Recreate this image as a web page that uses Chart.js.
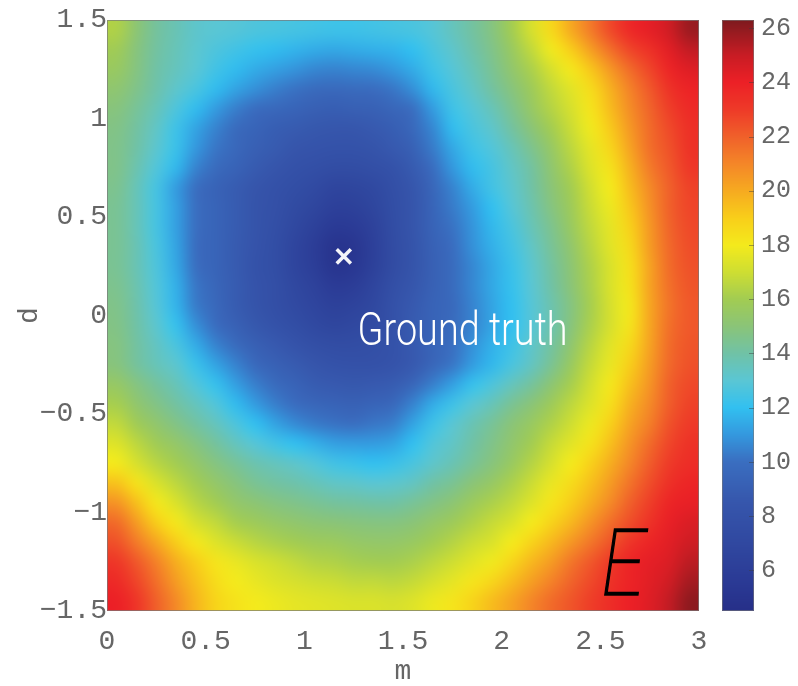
<!DOCTYPE html>
<html>
<head>
<meta charset="utf-8">
<script src="https://cdn.jsdelivr.net/npm/chart.js@4.4.1/dist/chart.umd.min.js"></script>
<style>
  html, body { margin: 0; padding: 0; background: #ffffff; }
  canvas { display: block; }
</style>
</head>
<body>
<canvas id="chart" width="798" height="686"></canvas>
<script>
// Cell centres of the E(m, d) grid
const mCenters = [0.05, 0.15, 0.25, 0.35, 0.45, 0.55, 0.65, 0.75, 0.85, 0.95,
                  1.05, 1.15, 1.25, 1.35, 1.45, 1.55, 1.65, 1.75, 1.85, 1.95,
                  2.05, 2.15, 2.25, 2.35, 2.45, 2.55, 2.65, 2.75, 2.85, 2.95];
const dCenters = [1.45, 1.35, 1.25, 1.15, 1.05, 0.95, 0.85, 0.75, 0.65, 0.55,
                  0.45, 0.35, 0.25, 0.15, 0.05, -0.05, -0.15, -0.25, -0.35, -0.45,
                  -0.55, -0.65, -0.75, -0.85, -0.95, -1.05, -1.15, -1.25, -1.35, -1.45];

// Energy E, one row per d value (top to bottom), one column per m value
const energy = [
  [16.3, 15.1, 14.2, 13.7, 13.2, 13.0, 12.9, 12.7, 12.6, 12.5, 12.4, 12.3, 12.3, 12.4, 12.5, 12.6, 12.9, 13.5, 14.1, 14.8, 16.0, 17.2, 18.6, 20.0, 21.3, 22.6, 23.7, 24.2, 24.8, 25.8],
  [15.9, 14.9, 14.1, 13.6, 13.1, 12.7, 12.4, 12.1, 11.9, 11.7, 11.5, 11.4, 11.5, 11.6, 11.7, 12.0, 12.6, 13.2, 13.9, 14.6, 15.6, 16.7, 17.9, 19.0, 20.3, 21.6, 22.7, 23.4, 24.3, 25.1],
  [15.6, 14.8, 14.0, 13.5, 13.0, 12.4, 11.9, 11.5, 11.2, 10.9, 10.6, 10.5, 10.6, 10.7, 11.0, 11.5, 12.3, 12.9, 13.6, 14.4, 15.3, 16.2, 17.2, 18.1, 19.2, 20.5, 21.7, 22.7, 23.8, 24.4],
  [15.2, 14.6, 13.9, 13.2, 12.6, 11.9, 11.3, 10.8, 10.4, 10.1, 9.8, 9.7, 9.8, 9.9, 10.2, 10.8, 11.8, 12.6, 13.3, 14.1, 14.9, 15.8, 16.7, 17.5, 18.5, 19.8, 21.1, 22.2, 23.3, 23.9],
  [14.9, 14.3, 13.6, 12.7, 11.9, 11.1, 10.4, 9.9, 9.6, 9.4, 9.1, 9.0, 9.1, 9.2, 9.5, 10.0, 11.1, 12.3, 12.9, 13.6, 14.5, 15.5, 16.4, 17.2, 18.2, 19.5, 20.8, 21.9, 22.9, 23.6],
  [14.7, 14.1, 13.3, 12.3, 11.3, 10.5, 9.8, 9.4, 9.0, 8.8, 8.6, 8.5, 8.5, 8.7, 9.0, 9.6, 10.6, 11.9, 12.6, 13.2, 14.1, 15.0, 16.0, 16.9, 17.9, 19.1, 20.5, 21.7, 22.6, 23.4],
  [14.6, 14.0, 13.1, 12.2, 11.0, 10.2, 9.6, 9.1, 8.8, 8.4, 8.2, 8.1, 8.1, 8.3, 8.7, 9.2, 10.3, 11.4, 12.3, 12.8, 13.6, 14.5, 15.5, 16.6, 17.6, 18.7, 20.2, 21.6, 22.4, 23.3],
  [14.6, 13.8, 12.8, 11.8, 10.5, 9.8, 9.3, 8.8, 8.4, 8.0, 7.7, 7.5, 7.5, 7.7, 8.1, 8.8, 9.9, 11.0, 11.9, 12.5, 13.3, 14.1, 15.2, 16.3, 17.4, 18.3, 19.8, 21.3, 22.2, 23.1],
  [14.5, 13.6, 12.5, 11.1, 10.0, 9.3, 8.9, 8.4, 8.0, 7.6, 7.2, 6.7, 6.8, 7.1, 7.7, 8.5, 9.5, 10.5, 11.5, 12.4, 13.1, 14.0, 15.0, 16.0, 17.1, 18.0, 19.5, 20.9, 22.0, 22.8],
  [14.4, 13.6, 12.5, 11.2, 10.0, 9.4, 8.9, 8.3, 7.9, 7.3, 6.8, 6.2, 6.3, 6.8, 7.6, 8.4, 9.4, 10.3, 11.1, 12.0, 12.9, 13.8, 14.8, 15.8, 16.9, 17.8, 19.2, 20.7, 22.0, 22.7],
  [14.4, 13.6, 12.5, 11.2, 10.0, 9.4, 8.9, 8.3, 7.8, 7.0, 6.3, 5.6, 5.7, 6.4, 7.5, 8.4, 9.3, 10.1, 10.9, 11.8, 12.6, 13.6, 14.5, 15.6, 16.7, 17.6, 18.9, 20.5, 21.9, 22.6],
  [14.4, 13.7, 12.6, 11.3, 9.9, 9.4, 8.8, 8.2, 7.6, 6.7, 5.9, 5.0, 5.2, 6.2, 7.4, 8.3, 9.2, 9.9, 10.8, 11.6, 12.4, 13.3, 14.3, 15.3, 16.5, 17.5, 18.6, 20.4, 21.8, 22.5],
  [14.4, 13.7, 12.7, 11.4, 10.0, 9.4, 8.8, 8.1, 7.6, 6.7, 6.0, 5.1, 5.3, 6.3, 7.4, 8.3, 9.1, 9.8, 10.6, 11.4, 12.2, 13.1, 14.1, 15.1, 16.3, 17.3, 18.4, 20.2, 21.7, 22.4],
  [14.5, 13.8, 12.8, 11.6, 10.2, 9.5, 8.9, 8.2, 7.7, 7.0, 6.4, 5.7, 5.9, 6.7, 7.7, 8.5, 9.2, 9.8, 10.6, 11.4, 12.1, 13.0, 14.0, 15.0, 16.2, 17.3, 18.3, 20.2, 21.6, 22.3],
  [14.6, 13.9, 12.9, 11.7, 10.3, 9.6, 8.9, 8.3, 7.8, 7.2, 6.7, 6.3, 6.5, 7.0, 8.0, 8.7, 9.3, 9.7, 10.5, 11.3, 12.0, 12.9, 13.8, 14.8, 16.1, 17.2, 18.1, 20.1, 21.5, 22.2],
  [14.7, 14.0, 13.1, 12.1, 10.8, 9.9, 9.2, 8.6, 8.1, 7.6, 7.1, 6.8, 7.0, 7.3, 8.0, 8.8, 9.3, 9.8, 10.5, 11.3, 12.0, 12.9, 13.8, 14.9, 16.2, 17.2, 18.2, 20.1, 21.6, 22.2],
  [14.8, 14.1, 13.4, 12.6, 11.5, 10.5, 9.8, 9.1, 8.7, 8.2, 7.8, 7.5, 7.5, 7.7, 8.1, 8.7, 9.4, 10.0, 10.8, 11.6, 12.3, 13.2, 14.1, 15.2, 16.5, 17.5, 18.6, 20.2, 21.7, 22.3],
  [14.9, 14.2, 13.6, 13.1, 12.2, 11.3, 10.5, 9.7, 9.2, 8.8, 8.4, 8.1, 8.0, 8.0, 8.2, 8.7, 9.5, 10.2, 11.1, 11.8, 12.6, 13.4, 14.4, 15.6, 16.8, 17.7, 19.0, 20.4, 21.8, 22.4],
  [15.5, 14.8, 14.2, 13.6, 12.8, 12.1, 11.2, 10.4, 9.8, 9.3, 8.9, 8.7, 8.6, 8.7, 8.9, 9.5, 10.4, 11.2, 12.1, 12.7, 13.5, 14.2, 15.1, 16.1, 17.1, 18.1, 19.4, 20.6, 22.0, 22.6],
  [16.1, 15.3, 14.7, 14.1, 13.5, 12.8, 11.9, 11.1, 10.4, 9.9, 9.5, 9.3, 9.2, 9.4, 9.6, 10.5, 11.5, 12.3, 13.0, 13.6, 14.4, 15.0, 15.8, 16.6, 17.4, 18.4, 19.8, 20.9, 22.1, 22.8],
  [16.7, 15.9, 15.3, 14.7, 14.1, 13.5, 12.7, 12.0, 11.3, 10.7, 10.3, 10.1, 10.0, 10.2, 10.4, 11.3, 12.3, 13.0, 13.7, 14.3, 15.0, 15.6, 16.3, 17.0, 17.8, 18.9, 20.2, 21.2, 22.4, 23.0],
  [17.4, 16.6, 15.9, 15.4, 14.8, 14.2, 13.5, 12.9, 12.4, 12.0, 11.6, 11.2, 11.1, 11.1, 11.3, 12.0, 12.8, 13.3, 14.0, 14.6, 15.3, 16.0, 16.8, 17.5, 18.3, 19.4, 20.6, 21.7, 22.7, 23.3],
  [18.0, 17.2, 16.5, 16.0, 15.4, 14.8, 14.3, 13.8, 13.5, 13.2, 12.8, 12.4, 12.2, 12.0, 12.2, 12.6, 13.2, 13.7, 14.3, 14.9, 15.6, 16.4, 17.2, 18.0, 18.9, 19.9, 21.0, 22.1, 23.0, 23.5],
  [19.3, 18.3, 17.3, 16.6, 16.0, 15.4, 14.9, 14.4, 14.1, 13.9, 13.6, 13.3, 13.2, 13.0, 13.1, 13.4, 14.0, 14.4, 15.0, 15.5, 16.2, 16.9, 17.7, 18.5, 19.4, 20.4, 21.5, 22.5, 23.4, 23.8],
  [20.6, 19.4, 18.1, 17.3, 16.5, 16.0, 15.4, 15.1, 14.8, 14.6, 14.4, 14.2, 14.1, 14.0, 14.0, 14.3, 14.7, 15.1, 15.7, 16.2, 16.7, 17.4, 18.2, 19.0, 19.9, 20.9, 22.0, 22.9, 23.8, 24.1],
  [21.7, 20.4, 19.0, 18.1, 17.2, 16.7, 16.1, 15.8, 15.5, 15.3, 15.1, 15.0, 14.9, 14.8, 14.8, 15.0, 15.4, 15.8, 16.3, 16.8, 17.3, 18.0, 18.8, 19.6, 20.6, 21.6, 22.5, 23.3, 24.1, 24.5],
  [22.4, 21.3, 20.1, 19.0, 18.1, 17.4, 16.9, 16.5, 16.2, 16.0, 15.8, 15.7, 15.5, 15.4, 15.4, 15.6, 16.0, 16.4, 16.9, 17.3, 18.0, 18.8, 19.6, 20.5, 21.4, 22.3, 23.2, 23.8, 24.3, 24.8],
  [23.1, 22.2, 21.1, 19.9, 19.0, 18.2, 17.7, 17.3, 17.0, 16.7, 16.4, 16.3, 16.1, 16.0, 16.0, 16.2, 16.6, 17.0, 17.5, 17.9, 18.7, 19.6, 20.4, 21.4, 22.2, 23.0, 23.8, 24.2, 24.5, 25.2],
  [23.6, 22.7, 21.6, 20.4, 19.4, 18.5, 18.0, 17.7, 17.4, 17.2, 17.0, 16.9, 16.7, 16.7, 16.6, 16.8, 17.2, 17.6, 18.2, 18.7, 19.5, 20.3, 21.1, 21.9, 22.6, 23.3, 23.9, 24.3, 24.8, 25.6],
  [24.0, 23.2, 22.0, 20.9, 19.7, 18.8, 18.3, 18.0, 17.8, 17.6, 17.5, 17.4, 17.3, 17.3, 17.2, 17.4, 17.8, 18.2, 18.8, 19.5, 20.2, 21.0, 21.7, 22.3, 22.9, 23.5, 24.0, 24.4, 25.1, 26.0]
];

// Axis ticks and colour-bar ticks
const mTicks = [0, 0.5, 1, 1.5, 2, 2.5, 3];
const dTicks = [-1.5, -1, -0.5, 0, 0.5, 1, 1.5];
const eTicks = [6, 8, 10, 12, 14, 16, 18, 20, 22, 24, 26];
const eRange = [4.5, 26.3];

// Ground-truth parameters and annotation anchors
const truthM = [1.2];
const truthD = [0.3];
const truthLabel = { text: 'Ground truth', m: 1.27, d: -0.15 };
const panelLabel = { text: 'E', m: 2.505, d: -1.42 };

// Jet-like colour map (value -> rgb)
const cmapStops = [
  [4.5, [38, 47, 136]], [5.5, [42, 57, 148]], [7.0, [48, 72, 160]],
  [8.5, [54, 86, 172]], [10.0, [58, 110, 192]], [11.0, [52, 152, 222]],
  [12.0, [50, 192, 240]], [13.0, [90, 198, 212]], [14.0, [112, 194, 166]],
  [15.0, [138, 196, 120]], [16.0, [162, 204, 82]], [17.0, [206, 222, 50]],
  [18.0, [244, 234, 28]], [19.0, [248, 206, 26]], [20.0, [246, 170, 32]],
  [21.0, [244, 134, 40]], [22.0, [240, 96, 42]], [23.0, [238, 58, 40]],
  [24.0, [236, 32, 38]], [25.0, [200, 28, 36]], [26.3, [125, 26, 30]]
];
function jetRGB(v) {
  const s = cmapStops;
  if (v <= s[0][0]) return s[0][1];
  if (v >= s[s.length - 1][0]) return s[s.length - 1][1];
  for (let i = 1; i < s.length; i++) {
    if (v <= s[i][0]) {
      const t = (v - s[i - 1][0]) / (s[i][0] - s[i - 1][0]);
      return s[i - 1][1].map((a, k) => Math.round(a + (s[i][1][k] - a) * t));
    }
  }
}
const jet = v => `rgb(${jetRGB(v).join(',')})`;

const axisFont = { family: "'Liberation Mono', 'DejaVu Sans Mono', monospace", size: 28 };
const axisColor = '#666666';
const fmt = v => (v < 0 ? '\u2212' + Math.abs(v) : String(v));

// Each grid cell becomes one texel; the texture is stretched over the cells'
// extent on the m/d scales with smooth (interpolated) shading.
function cellTexture() {
  const w = mCenters.length, h = dCenters.length;
  const off = document.createElement('canvas');
  off.width = w; off.height = h;
  const octx = off.getContext('2d');
  const img = octx.createImageData(w, h);
  for (let i = 0; i < h; i++) {
    for (let j = 0; j < w; j++) {
      const c = jetRGB(energy[i][j]);
      const k = (i * w + j) * 4;
      img.data[k] = c[0]; img.data[k + 1] = c[1]; img.data[k + 2] = c[2]; img.data[k + 3] = 255;
    }
  }
  octx.putImageData(img, 0, 0);
  return off;
}
const texture = cellTexture();

const heatmapPlugin = {
  id: 'heatmap',
  beforeDatasetsDraw(chart) {
    const { ctx, chartArea: a, scales: { x, y, cb } } = chart;
    const hm = (mCenters[1] - mCenters[0]) / 2;
    const hd = Math.abs(dCenters[0] - dCenters[1]) / 2;
    const left = x.getPixelForValue(mCenters[0] - hm);
    const right = x.getPixelForValue(mCenters[mCenters.length - 1] + hm);
    const top = y.getPixelForValue(dCenters[0] + hd);
    const bottom = y.getPixelForValue(dCenters[dCenters.length - 1] - hd);
    ctx.save();
    ctx.beginPath();
    ctx.rect(a.left, a.top, a.right - a.left, a.bottom - a.top);
    ctx.clip();
    ctx.imageSmoothingEnabled = true;
    ctx.imageSmoothingQuality = 'high';
    ctx.drawImage(texture, left, top, right - left, bottom - top);
    ctx.restore();

    // axes box
    ctx.save();
    ctx.strokeStyle = 'rgba(120,120,120,0.7)';
    ctx.lineWidth = 1;
    ctx.strokeRect(a.left + 0.5, a.top + 0.5, a.right - a.left - 1, a.bottom - a.top - 1);
    ctx.restore();

    // colour bar
    const bx0 = cb.left + 23, bx1 = cb.left + 55;
    ctx.save();
    for (let py = Math.floor(cb.top); py < Math.ceil(cb.bottom); py++) {
      ctx.fillStyle = jet(cb.getValueForPixel(py + 0.5));
      ctx.fillRect(bx0, py, bx1 - bx0, 1);
    }
    ctx.strokeStyle = 'rgba(120,120,120,0.6)';
    ctx.strokeRect(bx0 + 0.5, cb.top + 0.5, bx1 - bx0 - 1, cb.bottom - cb.top - 1);
    ctx.strokeStyle = 'rgba(60,60,60,0.45)';
    eTicks.forEach(v => {
      const py = Math.round(cb.getPixelForValue(v)) + 0.5;
      ctx.beginPath();
      ctx.moveTo(bx1 - 5, py);
      ctx.lineTo(bx1, py);
      ctx.stroke();
    });
    ctx.restore();
  },
  afterDatasetsDraw(chart) {
    const { ctx, scales: { x, y } } = chart;
    ctx.save();
    ctx.font = "300 46px Roboto";
    ctx.fillStyle = '#ffffff';
    ctx.textBaseline = 'alphabetic';
    const tx = x.getPixelForValue(truthLabel.m);
    const ty = y.getPixelForValue(truthLabel.d);
    const w = ctx.measureText(truthLabel.text).width;
    ctx.translate(tx, ty);
    ctx.scale(210 / w, 1);
    ctx.fillText(truthLabel.text, 0, 0);
    ctx.restore();

    // panel symbol
    ctx.save();
    ctx.font = "italic 100 92px Roboto";
    ctx.fillStyle = '#000000';
    ctx.strokeStyle = '#000000';
    ctx.lineWidth = 1.4;
    ctx.lineJoin = 'miter';
    const ex = x.getPixelForValue(panelLabel.m);
    const ey = y.getPixelForValue(panelLabel.d);
    ctx.translate(ex, ey);
    ctx.scale(0.86, 1);
    ctx.fillText(panelLabel.text, 0, 0);
    ctx.strokeText(panelLabel.text, 0, 0);
    ctx.restore();
  }
};

const noPad = s => { s.paddingTop = 0; s.paddingBottom = 0; };

new Chart(document.getElementById('chart'), {
  type: 'scatter',
  data: {
    datasets: [{
      data: truthM.map((m, i) => ({ x: m, y: truthD[i] })),
      pointStyle: 'crossRot',
      radius: 10,
      borderWidth: 3.5,
      borderColor: 'rgba(255,255,255,0.95)',
      backgroundColor: 'rgba(255,255,255,0.95)'
    }]
  },
  options: {
    responsive: false,
    animation: false,
    devicePixelRatio: 1,
    layout: { padding: { top: 20, left: 0, right: 0, bottom: 0 } },
    plugins: { legend: { display: false }, tooltip: { enabled: false } },
    scales: {
      x: {
        type: 'linear', position: 'bottom', min: 0, max: 3,
        afterBuildTicks: s => { s.ticks = mTicks.map(v => ({ value: v })); },
        afterFit: s => { s.height = 75; s.paddingLeft = 0; s.paddingRight = 0; },
        grid: { display: false, drawTicks: false },
        border: { display: false },
        ticks: { font: axisFont, color: axisColor, padding: 14, maxRotation: 0, callback: v => fmt(v) },
        title: { display: true, text: 'm', font: { ...axisFont, lineHeight: 1 }, color: axisColor, padding: { top: 0, bottom: 0 } }
      },
      y: {
        type: 'linear', position: 'left', min: -1.5, max: 1.5,
        afterBuildTicks: s => { s.ticks = dTicks.map(v => ({ value: v })); },
        afterFit: s => { s.width = 107; noPad(s); },
        grid: { display: false, drawTicks: false },
        border: { display: false },
        ticks: { font: axisFont, color: axisColor, padding: 0, callback: v => fmt(v) },
        title: { display: true, text: 'd', font: { ...axisFont, lineHeight: 1 }, color: axisColor, padding: { top: 16, bottom: 0 } }
      },
      cb: {
        type: 'linear', axis: 'y', position: 'right', min: eRange[0], max: eRange[1],
        afterBuildTicks: s => { s.ticks = eTicks.map(v => ({ value: v })); },
        afterFit: s => { s.width = 99; noPad(s); },
        grid: { display: false, drawTicks: false },
        border: { display: false },
        ticks: { font: { ...axisFont, size: 25 }, color: axisColor, padding: 62, callback: v => String(v) }
      }
    }
  },
  plugins: [heatmapPlugin]
});
</script>
</body>
</html>
